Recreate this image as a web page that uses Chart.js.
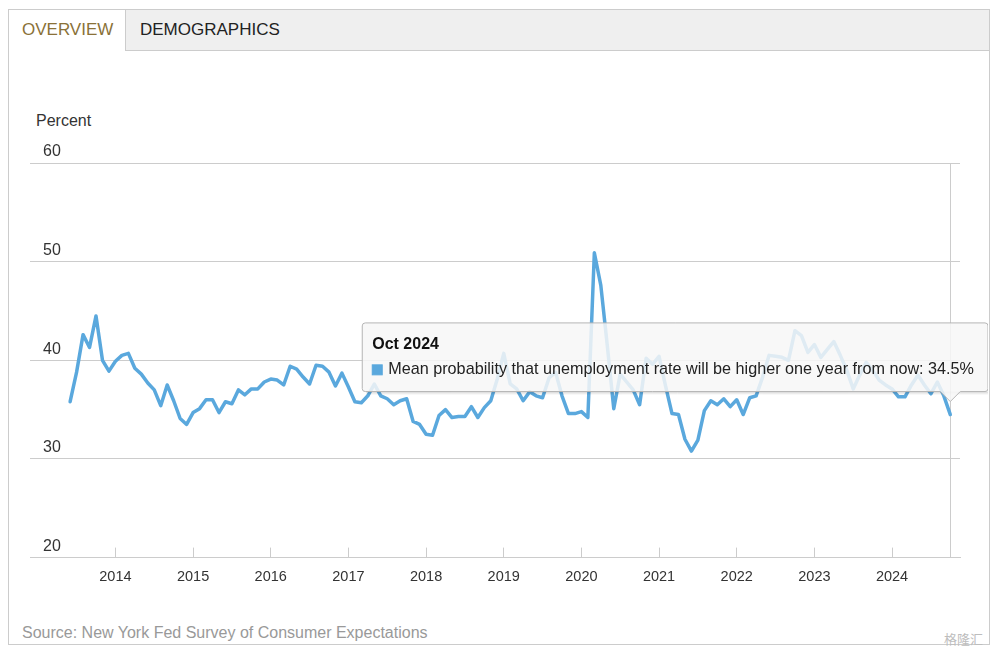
<!DOCTYPE html>
<html>
<head>
<meta charset="utf-8">
<script src="https://cdn.jsdelivr.net/npm/chart.js@4/dist/chart.umd.min.js"></script>
<style>
  body { margin: 0; background: #fff; font-family: "Liberation Sans", Arial, sans-serif; }
  #frame { position: absolute; left: 8px; top: 9px; width: 980px; height: 634px; border: 1px solid #ccc; }
  #tabs { position: absolute; left: 0; top: 0; width: 980px; height: 40px; background: #efefef; border-bottom: 1px solid #ccc; }
  .tab { position: absolute; top: 0; height: 40px; line-height: 40px; font-size: 17px; }
  #tab1 { left: 0; width: 116px; background: #fff; border-right: 1px solid #ccc; height: 41px; color: #8a7138; text-indent: 13px; }
  #tab2 { left: 131px; color: #222; }
  #unit { position: absolute; left: 36px; top: 112px; font-size: 16px; color: #333; }
  #source { position: absolute; left: 22px; top: 624px; font-size: 16px; color: #999; }
  #mark { position: absolute; left: 944px; top: 629px; font-size: 13px; color: #bdbdbd; font-family: "Noto Sans CJK SC", sans-serif; }
  #chart { position: absolute; left: 4px; top: 51px; }
</style>
</head>
<body>
<div id="frame">
  <div id="tabs">
    <div class="tab" id="tab1">OVERVIEW</div>
    <div class="tab" id="tab2">DEMOGRAPHICS</div>
  </div>
</div>
<div id="unit">Percent</div>
<canvas id="chart" width="984" height="570"></canvas>
<div id="source">Source: New York Fed Survey of Consumer Expectations</div>
<div id="mark">格隆汇</div>
<script>
// monthly series, Jun 2013 .. Oct 2024
const seriesName = 'Mean probability that unemployment rate will be higher one year from now';
const unemploymentHigher = [
  35.8, 38.8, 42.6, 41.3, 44.5, 40.0, 38.9,                               // 2013
  39.9, 40.5, 40.7, 39.2, 38.6, 37.7, 37.0, 35.4, 37.5, 35.9, 34.1, 33.5, // 2014
  34.7, 35.1, 36.0, 36.0, 34.7, 35.8, 35.6, 37.0, 36.5, 37.1, 37.1, 37.8, // 2015
  38.1, 38.0, 37.5, 39.4, 39.1, 38.3, 37.6, 39.5, 39.4, 38.8, 37.4, 38.7, // 2016
  37.3, 35.8, 35.7, 36.4, 37.6, 36.4, 36.1, 35.5, 35.9, 36.1, 33.8, 33.5, // 2017
  32.5, 32.4, 34.4, 35.0, 34.2, 34.3, 34.3, 35.3, 34.2, 35.2, 35.9, 38.1, // 2018
  40.7, 37.6, 37.1, 35.9, 36.8, 36.4, 36.2, 38.2, 38.8, 36.4, 34.6, 34.6, // 2019
  34.8, 34.2, 50.9, 47.6, 41.5, 35.1, 38.6, 37.8, 37.0, 35.5, 40.2, 39.6, // 2020
  40.4, 37.4, 34.6, 34.5, 32.0, 30.8, 31.9, 34.9, 35.9, 35.5, 36.1, 35.3, // 2021
  36.0, 34.5, 36.2, 36.4, 38.3, 40.5, 40.4, 40.3, 40.0, 43.0, 42.5, 40.8, // 2022
  41.6, 40.3, 41.1, 41.9, 40.5, 39.0, 37.1, 38.5, 39.8, 39.0, 38.0, 37.5, // 2023
  37.1, 36.3, 36.3, 37.5, 38.5, 37.5, 36.6, 37.8, 36.4, 34.5              // 2024
];
const monthNames = ['Jan','Feb','Mar','Apr','May','Jun','Jul','Aug','Sep','Oct','Nov','Dec'];
const startYear = 2013, startMonth = 5;
const yearTicks = ['2014','2015','2016','2017','2018','2019','2020','2021','2022','2023','2024'];
const yTicks = [20, 30, 40, 50, 60];

const monthLabels = unemploymentHigher.map((v, i) =>
  monthNames[(startMonth + i) % 12] + ' ' + (startYear + Math.floor((startMonth + i) / 12)));
const points = unemploymentHigher.map((v, i) => ({ x: i, y: v }));
const lineColor = '#5aa8dd';

const crosshair = {
  id: 'crosshair',
  beforeDatasetsDraw(chart) {
    const active = chart.tooltip.getActiveElements();
    if (!active.length) return;
    const ctx = chart.ctx;
    const x = Math.round(active[0].element.x) + 0.5;
    ctx.save();
    ctx.strokeStyle = '#ccc';
    ctx.lineWidth = 1;
    ctx.beginPath();
    ctx.moveTo(x, chart.chartArea.top);
    ctx.lineTo(x, chart.chartArea.bottom);
    ctx.stroke();
    ctx.restore();
  }
};

const tooltipShadow = {
  id: 'tooltipShadow',
  beforeTooltipDraw(chart, args) {
    const t = args.tooltip;
    if (!t.opacity) return;
    const ctx = chart.ctx;
    ctx.save();
    for (let k = 1; k <= 3; k++) {
      ctx.strokeStyle = 'rgba(0,0,0,' + (0.05 * (4 - k)) + ')';
      ctx.lineWidth = 1;
      ctx.beginPath();
      ctx.moveTo(t.x + 4, t.y + t.height + k - 0.5);
      ctx.lineTo(t.x + t.width + k - 0.5, t.y + t.height + k - 0.5);
      ctx.lineTo(t.x + t.width + k - 0.5, t.y + 4);
      ctx.stroke();
    }
    ctx.restore();
  }
};

const ctx = document.getElementById('chart').getContext('2d');
const chart = new Chart(ctx, {
  type: 'line',
  data: {
    datasets: [{
      label: seriesName,
      data: points,
      borderColor: lineColor,
      backgroundColor: lineColor,
      borderWidth: 3.5,
      borderJoinStyle: 'round',
      borderCapStyle: 'round',
      pointRadius: 0,
      pointHoverRadius: 0,
      tension: 0
    }]
  },
  options: {
    responsive: false,
    animation: false,
    events: [],
    layout: { padding: { top: 112, left: 0, right: 28, bottom: 14 } },
    scales: {
      x: {
        type: 'linear',
        min: -6.2,
        max: 137.5,
        afterBuildTicks: scale => {
          scale.ticks = yearTicks.map(y => ({ value: monthLabels.indexOf('Jan ' + y) }));
        },
        ticks: {
          autoSkip: false,
          maxRotation: 0,
          padding: 21,
          color: '#333',
          font: { size: 14.5, family: '"Liberation Sans", Arial, sans-serif' },
          callback: value => monthLabels[value].slice(4)
        },
        grid: { drawOnChartArea: false, drawTicks: true, tickLength: -10, color: '#ccc' },
        border: { display: true, color: '#ccc' }
      },
      y: {
        min: yTicks[0],
        max: yTicks[yTicks.length - 1],
        afterBuildTicks: scale => { scale.ticks = yTicks.map(v => ({ value: v })); },
        ticks: {
          mirror: true,
          padding: 13,
          labelOffset: -11,
          color: '#333',
          font: { size: 16, family: '"Liberation Sans", Arial, sans-serif' }
        },
        grid: { color: '#ccc', drawTicks: false },
        border: { display: false }
      }
    },
    plugins: {
      legend: { display: false },
      tooltip: {
        enabled: true,
        xAlign: 'center',
        yAlign: 'bottom',
        backgroundColor: 'rgba(247,247,247,0.85)',
        borderColor: '#b5b5b5',
        borderWidth: 1,
        cornerRadius: 3,
        caretSize: 10,
        caretPadding: 13,
        padding: { left: 10, right: 14, top: 12, bottom: 12 },
        titleColor: '#111',
        bodyColor: '#222',
        titleFont: { size: 16, weight: 'bold', family: '"Liberation Sans", Arial, sans-serif' },
        bodyFont: { size: 16.2, family: '"Liberation Sans", Arial, sans-serif' },
        titleMarginBottom: 6,
        boxWidth: 10,
        boxHeight: 10,
        boxPadding: 4,
        multiKeyBackground: lineColor,
        callbacks: {
          title: items => monthLabels[items[0].dataIndex],
          label: item => item.dataset.label + ': ' + item.parsed.y + '%',
          labelColor: () => ({ borderColor: lineColor, backgroundColor: lineColor, borderWidth: 0 })
        }
      }
    }
  },
  plugins: [crosshair, tooltipShadow]
});

const last = unemploymentHigher.length - 1;
const el = chart.getDatasetMeta(0).data[last];
chart.tooltip.setActiveElements([{ datasetIndex: 0, index: last }], { x: el.x, y: el.y });
chart.update();
</script>
</body>
</html>
